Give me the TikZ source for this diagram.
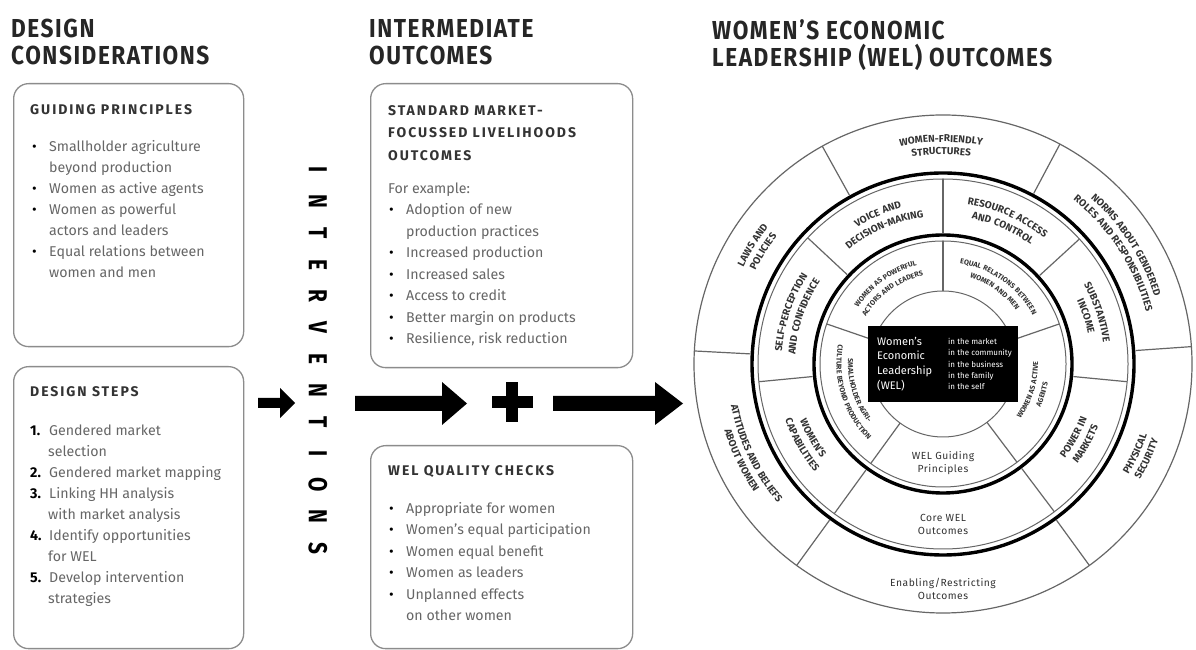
\documentclass[tikz,border=0pt]{standalone}
\usepackage{fontspec}
\setmainfont{Fira Sans}
\newfontfamily\headfam[FakeStretch=0.87,LetterSpace=6]{Fira Sans}
\newfontfamily\boxfam[LetterSpace=14]{Fira Sans}
\newfontfamily\ringfam[LetterSpace=8]{Fira Sans}
\newfontfamily\plainring[LetterSpace=5]{Fira Sans}
\newfontfamily\interfam[FakeStretch=0.8]{Fira Sans}
\usetikzlibrary{decorations.text}
\definecolor{hdr}{HTML}{262626}
\definecolor{ttl}{HTML}{333333}
\definecolor{bodytxt}{HTML}{666666}
\definecolor{boxline}{HTML}{8C8C8C}
\definecolor{ringtxt}{HTML}{333333}
\definecolor{divline}{HTML}{666666}
\newcommand\bulx{\makebox[18pt][l]{\hspace{1pt}\textcolor{black}{\textbullet}}}
\newcommand\indx{\hspace*{18pt}}
\newcommand\nb[1]{\makebox[19pt][l]{\textcolor{black}{\bfseries #1}}}
\newcommand\rfont{\ringfam\bfseries\fontsize{10}{11}\selectfont\color{ringtxt}}
\newcommand\sfontr{\ringfam\bfseries\fontsize{7.2}{8}\selectfont\color{ringtxt}}
\newcommand\arctxt[5]{\path[decorate,decoration={text along path,text align=center,text={|#4|#5}}] (#2:#1) arc[start angle=#2,end angle=#3,radius=#1];}
\tikzset{
  hdrnode/.style={anchor=north west,inner sep=0,align=left,text=hdr,font=\headfam\bfseries\fontsize{26}{27}\selectfont},
  roundbox/.style={draw=boxline,line width=1.3pt,rounded corners=15pt,anchor=north west,inner sep=0},
  boxtitle/.style={inner sep=0,align=left,text=ttl,font=\boxfam\bfseries\fontsize{14}{22.5}\selectfont},
  bodyn/.style={anchor=north west,inner sep=0,align=left,text=bodytxt,font=\fontsize{14.2}{21}\selectfont},
  bodym/.style={anchor=north west,inner sep=0,align=left,text=bodytxt,font=\fontsize{14.2}{21.5}\selectfont},
  interletter/.style={rotate=-90,inner sep=0,text=black,font=\interfam\bfseries\fontsize{26}{26}\selectfont},
  outerthin/.style={draw=divline,line width=1.2pt},
  thickring/.style={draw=black,line width=3.4pt},
  thinring/.style={draw=divline,line width=1pt},
  divider/.style={draw=divline,line width=1.2pt},
  ringplain/.style={align=center,inner sep=0,text=ringtxt,font=\plainring\fontsize{10.3}{13}\selectfont},
}
\begin{document}
\begin{tikzpicture}[x=1pt,y=1pt]
\path[fill=white] (0,0) rectangle (1196,650);
\useasboundingbox (0,0) rectangle (1196,650);

\begin{scope}[shift={(0,650)},yscale=-1]
% headers
\node[hdrnode] (h1) at (11,19) {DESIGN\\CONSIDERATIONS};
\node[hdrnode] (h2) at (369,19) {INTERMEDIATE\\OUTCOMES};
\node[hdrnode] (h3) at (712,19) {WOMEN’S ECONOMIC\\LEADERSHIP (WEL) OUTCOMES};

% boxes
\node[roundbox,minimum width=230,minimum height=263] (gp) at (13,83) {};
\node[roundbox,minimum width=230,minimum height=282] (ds) at (13,366) {};
\node[roundbox,minimum width=262,minimum height=284] (sm) at (370,83) {};
\node[roundbox,minimum width=262,minimum height=203] (wq) at (370,445) {};

% box titles
\node[boxtitle,anchor=west] (gpt) at (30,110) {GUIDING PRINCIPLES};
\node[boxtitle,anchor=west] (dst) at (30,392) {DESIGN STEPS};
\node[boxtitle,anchor=north west] (smt) at (388,105.2) {STANDARD MARKET-\\FOCUSSED LIVELIHOODS\\OUTCOMES};
\node[boxtitle,anchor=west] (wqt) at (388,472) {WEL QUALITY CHECKS};

% lists
\node[bodyn] (gpl) at (31,140.5) {\bulx Smallholder agriculture\\\indx beyond production\\\bulx Women as active agents\\\bulx Women as powerful\\\indx actors and leaders\\\bulx Equal relations between\\\indx women and men};
\node[bodyn] (dsl) at (30,424.5) {\nb{1.}Gendered market\\\indx selection\\\nb{2.}Gendered market mapping\\\nb{3.}Linking HH analysis\\\indx with market analysis\\\nb{4.}Identify opportunities\\\indx for WEL\\\nb{5.}Develop intervention\\\indx strategies};
\node[bodym] (sml) at (388,182.5) {For example:\\\bulx Adoption of new\\\indx production practices\\\bulx Increased production\\\bulx Increased sales\\\bulx Access to credit\\\bulx Better margin on products\\\bulx Resilience, risk reduction};
\node[bodym] (wql) at (388,502) {\bulx Appropriate for women\\\bulx Women’s equal participation\\\bulx Women equal benefit\\\bulx Women as leaders\\\bulx Unplanned effects\\\indx on other women};

% arrows and plus
\fill[black] (258,398) -- (280,398) -- (280,388) -- (295,403) -- (280,418) -- (280,408) -- (258,408) -- cycle;
\fill[black] (355,396) -- (442,396) -- (442,382) -- (467,403.5) -- (442,425) -- (442,411) -- (355,411) -- cycle;
\fill[black] (506,382) rectangle (518,422);
\fill[black] (492,396) rectangle (533,408);
\fill[black] (553,396) -- (655,396) -- (655,382) -- (683,403.5) -- (655,425) -- (655,411) -- (553,411) -- cycle;
\end{scope}

% INTERVENTIONS
\foreach \l [count=\i from 0] in {I,N,T,E,R,V,E,N,T,I,O,N,S}
  \node[interletter] (iv\i) at (318,{480-31.5*\i}) {\l};

% circle
\begin{scope}[shift={(943,286)}]
\draw[outerthin] (0,0) circle[radius=249];
\draw[thickring] (0,0) circle[radius=191];
\draw[thinring] (0,0) circle[radius=185];
\draw[thickring] (0,0) circle[radius=129];
\draw[thinring] (0,0) circle[radius=123];
\draw[thinring] (0,0) circle[radius=73];
\foreach \a in {4,62,119,177,234,306} \draw[divider] (\a:193) -- (\a:249);
\foreach \a in {-5.5,42.5,90,137,185.5,234,307} \draw[divider] (\a:131) -- (\a:185);
\foreach \a in {19,90,161,234,307} \draw[divider] (\a:73) -- (\a:123);

% outer ring labels
\arctxt{222}{119}{62}{\rfont}{WOMEN-FRIENDLY}
\arctxt{209.5}{119}{62}{\rfont}{STRUCTURES}
\arctxt{222}{62}{4}{\rfont}{NORMS ABOUT GENDERED}
\arctxt{209.5}{62}{4}{\rfont}{ROLES AND RESPONSIBILITIES}
\arctxt{216}{-54}{4}{\rfont}{PHYSICAL}
\arctxt{228.5}{-54}{4}{\rfont}{SECURITY}
\arctxt{216}{177}{234}{\rfont}{ATTITUDES AND BELIEFS}
\arctxt{228.5}{177}{234}{\rfont}{ABOUT WOMEN}
\arctxt{222}{177}{119}{\rfont}{LAWS AND}
\arctxt{209.5}{177}{119}{\rfont}{POLICIES}
\node[ringplain] (enab) at (0,-225) {Enabling/Restricting\\Outcomes};

% middle ring labels
\arctxt{161.5}{137}{90}{\rfont}{VOICE AND}
\arctxt{148}{137}{90}{\rfont}{DECISION-MAKING}
\arctxt{161.5}{90}{42.5}{\rfont}{RESOURCE ACCESS}
\arctxt{148}{90}{42.5}{\rfont}{AND CONTROL}
\arctxt{161.5}{42.5}{-5.5}{\rfont}{SUBSTANTIVE}
\arctxt{148}{42.5}{-5.5}{\rfont}{INCOME}
\arctxt{154}{-53}{-5.5}{\rfont}{POWER IN}
\arctxt{167.5}{-53}{-5.5}{\rfont}{MARKETS}
\arctxt{154}{185.5}{234}{\rfont}{WOMEN’S}
\arctxt{167.5}{185.5}{234}{\rfont}{CAPABILITIES}
\arctxt{161.5}{185.5}{137}{\rfont}{SELF-PERCEPTION}
\arctxt{148}{185.5}{137}{\rfont}{AND CONFIDENCE}
\node[ringplain] (core) at (0,-160) {Core WEL\\Outcomes};

% inner ring labels
\arctxt{102}{161}{90}{\sfontr}{WOMEN AS POWERFUL}
\arctxt{90.5}{161}{90}{\sfontr}{ACTORS AND LEADERS}
\arctxt{102}{90}{19}{\sfontr}{EQUAL RELATIONS BETWEEN}
\arctxt{90.5}{90}{19}{\sfontr}{WOMEN AND MEN}
\arctxt{95}{-53}{19}{\sfontr}{WOMEN AS ACTIVE}
\arctxt{106.5}{-53}{19}{\sfontr}{AGENTS}
\arctxt{95}{161}{234}{\sfontr}{SMALLHOLDER AGRI-}
\arctxt{106.5}{161}{234}{\sfontr}{CULTURE BEYOND PRODUCTION}
\node[ringplain] (guide) at (0,-99.5) {WEL Guiding\\Principles};

% central black box
\node[fill=black,minimum width=150,minimum height=76,inner sep=0] (wel) at (0,0) {};
\node[anchor=west,inner sep=0,align=left,text=white,font=\fontsize{11}{14.7}\selectfont] (welL) at (-66,0) {Women’s\\Economic\\Leadership\\(WEL)};
\node[anchor=west,inner sep=0,align=left,text=white,font=\fontsize{8}{11.3}\selectfont] (welR) at (5,0) {in the market\\in the community\\in the business\\in the family\\in the self};
\end{scope}
\end{tikzpicture}
\end{document}
